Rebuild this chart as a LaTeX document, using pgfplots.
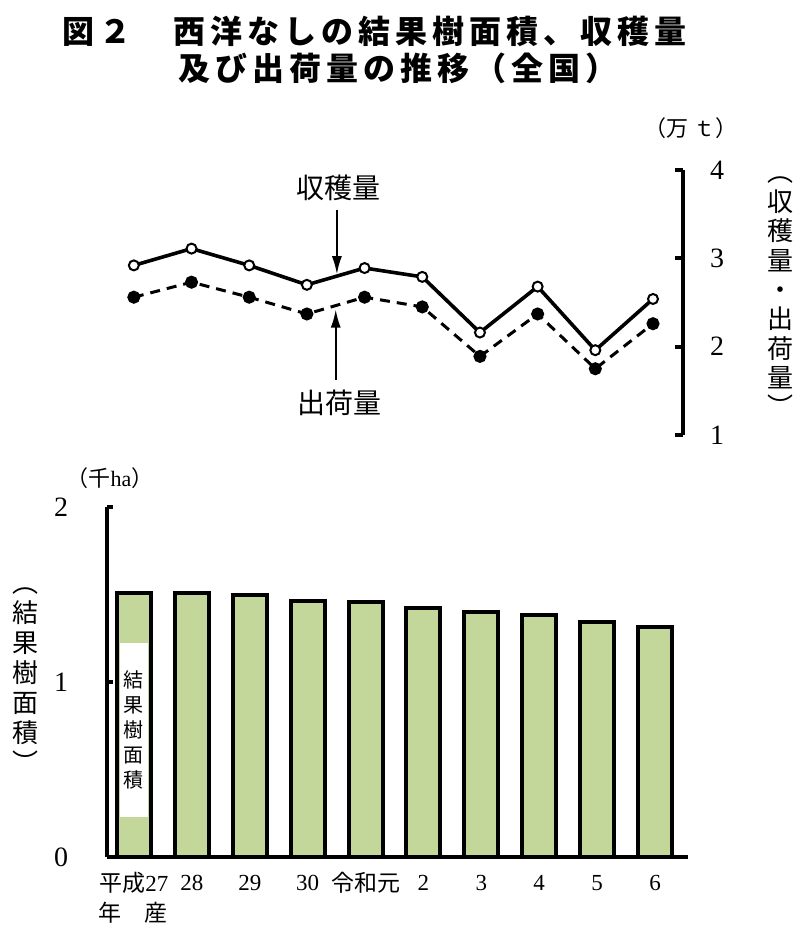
\documentclass[border=0pt]{standalone}
\usepackage{fontspec}
\usepackage{pgfplots}
\pgfplotsset{compat=1.18}
\usetikzlibrary{arrows.meta}
\setmainfont{Liberation Serif}
\newfontfamily\cjk{Noto Sans CJK JP}
\newfontfamily\cjktitle[LetterSpace=15.6]{Noto Sans CJK JP}
\definecolor{barfill}{HTML}{C4D79B}

\begin{document}
\begin{tikzpicture}
\useasboundingbox (0,0) rectangle (405.5pt,466pt);

% title
\node[anchor=west, inner sep=0pt, font=\cjktitle\bfseries\fontsize{16}{18}\selectfont] at (31pt,450.5pt) {図２　西洋なしの結果樹面積、収穫量};
\node[anchor=west, inner sep=0pt, font=\cjktitle\bfseries\fontsize{16}{18}\selectfont] at (89pt,432pt) {及び出荷量の推移（全国）};

% top: harvest and shipment (10 thousand t)
\begin{axis}[
  at={(52.5pt,248.5pt)}, anchor=south west,
  scale only axis, width=289pt, height=132.5pt,
  xmin=-0.5, xmax=9.52, ymin=1, ymax=4,
  axis x line=none, axis y line*=right,
  xtick=\empty, ytick={1,2,3,4},
  tick align=inside, major tick length=4pt,
  every tick/.style={black, line width=2pt},
  axis line style={line width=2pt},
  /pgf/number format/assume math mode=true,
  yticklabel style={anchor=center, xshift=17pt, font=\fontsize{14}{16}\selectfont},
  clip=false,
]
\addplot[black, line width=1.8pt, mark=*, mark size=2.5pt,
  mark options={solid, fill=white, line width=1pt}]
  coordinates {(0,2.92) (1,3.11) (2,2.92) (3,2.70) (4,2.89) (5,2.79) (6,2.16) (7,2.68) (8,1.96) (9,2.54)};
\addplot[black, line width=1.5pt, dash pattern=on 5pt off 3.5pt, mark=*, mark size=2.5pt,
  mark options={solid, fill=black}]
  coordinates {(0,2.56) (1,2.73) (2,2.56) (3,2.37) (4,2.56) (5,2.45) (6,1.89) (7,2.37) (8,1.75) (9,2.26)};
\node[font=\cjk\fontsize{14}{16}\selectfont] at (axis cs:3.54,3.80) {収穫量};
\draw[line width=0.9pt, -{Latex[length=9pt,width=5pt]}] (axis cs:3.52,3.55) -- (axis cs:3.52,2.82);
\node[font=\cjk\fontsize{14}{16}\selectfont] at (axis cs:3.57,1.36) {出荷量};
\draw[line width=0.9pt, -{Latex[length=9pt,width=5pt]}] (axis cs:3.5,1.62) -- (axis cs:3.5,2.42);
\end{axis}
\node[font=\cjk\fontsize{11}{13}\selectfont] at (345.5pt,402pt) {（万 ｔ）};
\node[align=center, inner sep=0pt, font=\cjk\fontsize{13}{14.7}\selectfont] at (390pt,317.5pt) {︵\\収\\穫\\量\\・\\出\\荷\\量\\︶};

% bottom: bearing area (thousand ha)
\begin{axis}[
  at={(53.5pt,37.5pt)}, anchor=south west,
  scale only axis, width=290.5pt, height=175pt,
  xmin=-0.466, xmax=9.57, ymin=0, ymax=2,
  axis x line*=bottom, axis y line*=left,
  ybar, bar width=17pt, bar shift=0pt,
  xtick={0,...,9},
  xticklabels={{\cjk 平成}27, 28, 29, 30, {\cjk 令和元}, 2, 3, 4, 5, 6},
  ytick={0,1,2},
  tick align=inside, major tick length=3pt,
  x tick style={draw=none},
  every tick/.style={black, line width=2pt},
  axis line style={line width=2pt},
  /pgf/number format/assume math mode=true,
  xticklabel style={anchor=center, yshift=-13pt, font=\fontsize{11.5}{13}\selectfont},
  yticklabel style={anchor=center, xshift=-23pt, font=\fontsize{14}{16}\selectfont},
  clip=false,
]
\addplot[fill=barfill, draw=black, line width=2pt]
  coordinates {(0,1.51) (1,1.51) (2,1.495) (3,1.465) (4,1.455) (5,1.425) (6,1.40) (7,1.385) (8,1.345) (9,1.315)};
\node[fill=white, inner sep=0pt, minimum width=14pt, minimum height=87pt, align=center,
  font=\cjk\fontsize{10}{12.5}\selectfont] at (axis cs:0,0.726) {結\\果\\樹\\面\\積};
\end{axis}
\node[font=\fontsize{11}{13}\selectfont] at (55pt,227pt) {{\cjk （千}ha{\cjk ）}};
\node[align=center, inner sep=0pt, font=\cjk\fontsize{13}{15}\selectfont] at (12.5pt,126pt) {︵\\結\\果\\樹\\面\\積\\︶};
\node[font=\cjk\fontsize{11.5}{13}\selectfont] at (66.5pt,9.5pt) {年　産};
\end{tikzpicture}
\end{document}
